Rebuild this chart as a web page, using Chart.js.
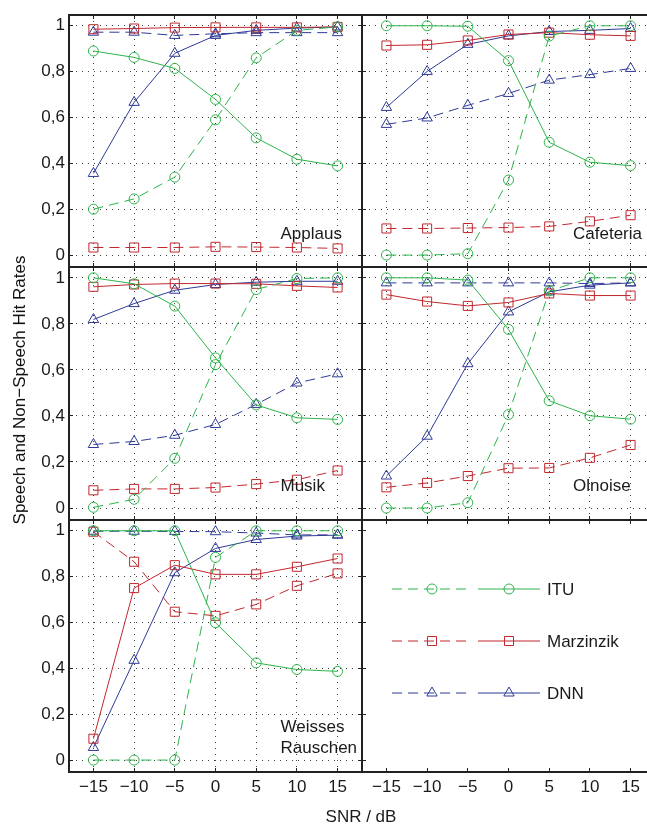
<!DOCTYPE html>
<html><head><meta charset="utf-8">
<script src="https://cdn.jsdelivr.net/npm/chart.js@4/dist/chart.umd.min.js"></script>
<style>
html,body{margin:0;padding:0;background:#fff;}
#wrap{position:relative;width:647px;height:825px;overflow:hidden;background:#fff;}
#wrap canvas{position:absolute;left:0;top:0;}
.lbl{position:absolute;font-family:'Liberation Sans',Arial,sans-serif;color:#1a1a1a;font-size:17px;white-space:nowrap;text-align:center;}
#ytitle{left:-130px;top:381px;width:300px;height:18px;line-height:18px;transform:rotate(-90deg);transform-origin:150px 9px;color:#111;}
#xtitle{left:311px;top:808px;width:100px;height:18px;line-height:18px;}
</style></head><body>
<div id="wrap">
<canvas id="c0" width="680" height="825"></canvas>
<canvas id="c1" width="680" height="825"></canvas>
<canvas id="c2" width="680" height="825"></canvas>
<canvas id="c3" width="680" height="825"></canvas>
<canvas id="c4" width="680" height="825"></canvas>
<canvas id="c5" width="680" height="825"></canvas>
<div class="lbl" id="ytitle">Speech and Non−Speech Hit Rates</div>
<div class="lbl" id="xtitle">SNR / dB</div>
</div>
<script>
// ---- data ----
const snr = [-15, -10, -5, 0, 5, 10, 15];
const xTickLabels = ['−15', '−10', '−5', '0', '5', '10', '15'];
const yTickValues = [0, 0.2, 0.4, 0.6, 0.8, 1];
const yTickLabels = ['0', '0,2', '0,4', '0,6', '0,8', '1'];
const methods = ['ITU', 'Marzinzik', 'DNN'];

const applausItuDashed = [0.20, 0.245, 0.34, 0.59, 0.86, 0.98, 0.995];
const applausItuSolid  = [0.89, 0.862, 0.814, 0.679, 0.511, 0.418, 0.389];
const applausMarDashed = [0.033, 0.033, 0.033, 0.036, 0.035, 0.033, 0.029];
const applausMarSolid  = [0.985, 0.988, 0.992, 0.993, 0.993, 0.993, 0.995];
const applausDnnDashed = [0.972, 0.972, 0.958, 0.965, 0.97, 0.97, 0.97];
const applausDnnSolid  = [0.356, 0.666, 0.88, 0.958, 0.98, 0.99, 0.995];

const cafItuDashed = [0.0, 0.0, 0.006, 0.327, 0.955, 1.0, 1.0];
const cafItuSolid  = [1.0, 1.0, 0.998, 0.848, 0.492, 0.405, 0.390];
const cafMarDashed = [0.116, 0.116, 0.118, 0.120, 0.125, 0.147, 0.174];
const cafMarSolid  = [0.914, 0.917, 0.936, 0.962, 0.970, 0.961, 0.956];
const cafDnnDashed = [0.570, 0.598, 0.653, 0.705, 0.763, 0.787, 0.814];
const cafDnnSolid  = [0.644, 0.801, 0.919, 0.956, 0.975, 0.98, 0.988];

const musItuDashed = [0.003, 0.038, 0.216, 0.623, 0.949, 0.997, 1.0];
const musItuSolid  = [1.0, 0.974, 0.877, 0.652, 0.448, 0.392, 0.385];
const musMarDashed = [0.077, 0.083, 0.083, 0.089, 0.104, 0.123, 0.163];
const musMarSolid  = [0.961, 0.971, 0.975, 0.975, 0.974, 0.965, 0.958];
const musDnnDashed = [0.276, 0.289, 0.316, 0.363, 0.450, 0.543, 0.583];
const musDnnSolid  = [0.819, 0.888, 0.946, 0.971, 0.981, 0.985, 0.985];

const olItuDashed = [0.0, 0.0, 0.023, 0.406, 0.943, 1.0, 1.0];
const olItuSolid  = [1.0, 1.0, 0.99, 0.776, 0.466, 0.401, 0.386];
const olMarDashed = [0.090, 0.109, 0.139, 0.173, 0.174, 0.218, 0.274];
const olMarSolid  = [0.927, 0.897, 0.878, 0.893, 0.932, 0.923, 0.923];
const olDnnDashed = [0.978, 0.978, 0.978, 0.978, 0.978, 0.975, 0.978];
const olDnnSolid  = [0.139, 0.312, 0.627, 0.852, 0.939, 0.968, 0.978];

const wrItuDashed = [0.0, 0.0, 0.0, 0.884, 1.0, 1.0, 1.0];
const wrItuSolid  = [1.0, 1.0, 1.0, 0.599, 0.424, 0.395, 0.387];
const wrMarDashed = [0.996, 0.865, 0.647, 0.629, 0.679, 0.760, 0.814];
const wrMarSolid  = [0.093, 0.75, 0.85, 0.81, 0.81, 0.843, 0.879];
const wrDnnDashed = [0.998, 0.998, 0.997, 0.996, 0.99, 0.982, 0.982];
const wrDnnSolid  = [0.055, 0.435, 0.817, 0.923, 0.962, 0.977, 0.981];

// ---- styles ----
const FONT = "'Liberation Sans', Arial, sans-serif";
const TEXT = '#1a1a1a';
const methodColors = ['#2db34a', '#c1272d', '#2e3a96'];
const methodShapes = ['circle', 'rect', 'triangle'];
const shapeRadius = {circle: 5, rect: 6.4, triangle: 6};
const DASH = [10, 6];

Chart.defaults.font.family = FONT;
Chart.defaults.color = TEXT;

const colLeft = [69, 362], colRight = [362, 655];
const rowTop = [15, 267, 520], rowBottom = [267, 520, 772];
const CW = 680, CH = 825;

function ds(vals, m, dashed) {
  return {
    data: snr.map((x, i) => ({x: x, y: vals[i]})),
    borderColor: methodColors[m], borderWidth: 1, borderDash: dashed ? DASH : [],
    pointStyle: methodShapes[m], pointRadius: shapeRadius[methodShapes[m]],
    pointBorderColor: methodColors[m], pointBackgroundColor: 'rgba(0,0,0,0)',
    pointBorderWidth: 1, tension: 0, fill: false, xAxisID: 'x', yAxisID: 'y'
  };
}

function gridOpts(onArea) {
  return {display: true, drawOnChartArea: onArea, drawTicks: true, tickLength: -4,
          tickColor: '#222', tickWidth: 1, color: 'rgba(0,0,0,0.75)', lineWidth: 1};
}
function borderOpts() { return {display: true, color: '#222', width: 2, dash: [1, 5]}; }
function zeroPad(s) { s.paddingTop = 0; s.paddingBottom = 0; s.paddingLeft = 0; s.paddingRight = 0; }

function xAxis(pos, labels, onArea, size) {
  return {type: 'linear', position: pos, min: -18, max: 18,
    afterBuildTicks: s => { s.ticks = snr.map(v => ({value: v})); },
    afterFit: s => { s.height = size; zeroPad(s); },
    ticks: {display: labels, padding: 9, autoSkip: false, maxRotation: 0, color: TEXT,
            font: {size: 17, family: FONT}, callback: v => xTickLabels[snr.indexOf(v)]},
    grid: gridOpts(onArea), border: borderOpts()};
}
function yAxis(pos, labels, onArea, size) {
  return {type: 'linear', position: pos, min: -0.052, max: 1.047,
    afterBuildTicks: s => { s.ticks = yTickValues.map(v => ({value: v})); },
    afterFit: s => { s.width = size; zeroPad(s); },
    ticks: {display: labels, padding: 8, color: TEXT,
            font: {size: 17, family: FONT}, callback: v => yTickLabels[yTickValues.indexOf(v)]},
    grid: gridOpts(onArea), border: borderOpts()};
}

const panelLabelPlugin = {
  id: 'panelLabel',
  afterDatasetsDraw(chart, args, o) {
    if (!o || !o.lines) return;
    const {ctx, chartArea} = chart;
    ctx.save();
    ctx.font = '17px ' + FONT; ctx.fillStyle = TEXT;
    ctx.textAlign = 'left'; ctx.textBaseline = 'alphabetic';
    o.lines.forEach((t, i) => ctx.fillText(t, chartArea.left + o.dx, chartArea.top + o.dy[i]));
    ctx.restore();
  }
};

function drawMarker(ctx, shape, x, y) {
  if (Chart.helpers && Chart.helpers.drawPoint) {
    ctx.fillStyle = 'rgba(0,0,0,0)';
    Chart.helpers.drawPoint(ctx, {pointStyle: shape, radius: shapeRadius[shape], rotation: 0, borderWidth: 1}, x, y);
  }
}

const legendPlugin = {
  id: 'fakeLegend',
  afterDraw(chart, args, o) {
    if (!o || !o.on) return;
    const {ctx, chartArea} = chart;
    const L = chartArea.left, T = chartArea.top;
    methods.forEach((name, m) => {
      const y = T + 69 + m * 52;
      ctx.save();
      ctx.strokeStyle = methodColors[m]; ctx.lineWidth = 1;
      ctx.setLineDash(DASH);
      ctx.beginPath(); ctx.moveTo(L + 30, y); ctx.lineTo(L + 106, y); ctx.stroke();
      ctx.setLineDash([]);
      drawMarker(ctx, methodShapes[m], L + 70, y);
      ctx.beginPath(); ctx.moveTo(L + 116, y); ctx.lineTo(L + 178, y); ctx.stroke();
      drawMarker(ctx, methodShapes[m], L + 147, y);
      ctx.fillStyle = TEXT; ctx.font = '17px ' + FONT;
      ctx.textAlign = 'left'; ctx.textBaseline = 'middle';
      ctx.fillText(name, L + 185, y + 1);
      ctx.restore();
    });
  }
};

function makePanel(id, col, row, datasets, label, opts) {
  const left = colLeft[col], right = colRight[col], top = rowTop[row], bottom = rowBottom[row];
  const onArea = !opts.noGrid;
  const yLab = col === 0, xLab = row === 2;
  const ySize = yLab ? left : 0;
  const xSize = xLab ? CH - bottom : 0;
  new Chart(document.getElementById(id), {
    type: 'line',
    data: {datasets: datasets},
    options: {
      responsive: false, animation: false, devicePixelRatio: 1,
      layout: {padding: {left: left - ySize, top: top, right: CW - right, bottom: CH - bottom - xSize}},
      plugins: {legend: {display: false}, tooltip: {enabled: false}, title: {display: false},
                panelLabel: label, fakeLegend: {on: !!opts.legend}},
      scales: {
        x: xAxis('bottom', xLab, onArea, xSize),
        x2: xAxis('top', false, false, 0),
        y: yAxis('left', yLab, onArea, ySize),
        y2: yAxis('right', false, false, 0)
      }
    },
    plugins: [panelLabelPlugin, legendPlugin]
  });
}

function panelSets(itD, itS, mD, mS, dD, dS) {
  return [ds(itD, 0, true), ds(itS, 0, false), ds(mD, 1, true), ds(mS, 1, false), ds(dD, 2, true), ds(dS, 2, false)];
}

makePanel('c0', 0, 0, panelSets(applausItuDashed, applausItuSolid, applausMarDashed, applausMarSolid, applausDnnDashed, applausDnnSolid),
  {lines: ['Applaus'], dx: 211.5, dy: [224]}, {});
makePanel('c1', 1, 0, panelSets(cafItuDashed, cafItuSolid, cafMarDashed, cafMarSolid, cafDnnDashed, cafDnnSolid),
  {lines: ['Cafeteria'], dx: 211, dy: [224]}, {});
makePanel('c2', 0, 1, panelSets(musItuDashed, musItuSolid, musMarDashed, musMarSolid, musDnnDashed, musDnnSolid),
  {lines: ['Musik'], dx: 211.5, dy: [224]}, {});
makePanel('c3', 1, 1, panelSets(olItuDashed, olItuSolid, olMarDashed, olMarSolid, olDnnDashed, olDnnSolid),
  {lines: ['Olnoise'], dx: 211, dy: [224]}, {});
makePanel('c4', 0, 2, panelSets(wrItuDashed, wrItuSolid, wrMarDashed, wrMarSolid, wrDnnDashed, wrDnnSolid),
  {lines: ['Weisses', 'Rauschen'], dx: 211.5, dy: [212, 233]}, {});
makePanel('c5', 1, 2, [], {}, {noGrid: true, legend: true});
</script>
</body></html>
